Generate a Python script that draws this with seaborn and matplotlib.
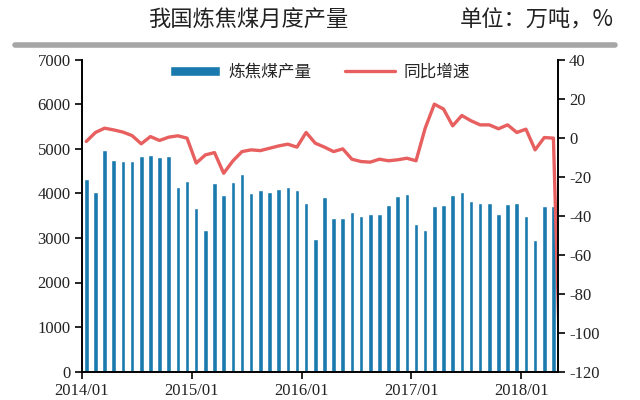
import matplotlib
matplotlib.use("Agg")
import matplotlib.pyplot as plt
import seaborn as sns
import numpy as np
import pandas as pd
from matplotlib.lines import Line2D

# ---- data ----
months = [f"{y}/{m:02d}" for y in range(2014, 2019) for m in range(1, 13)][:52]
output = [4314, 4036, 4964, 4747, 4717, 4717, 4836, 4852, 4814, 4836, 4148, 4283,
          3677, 3177, 4224, 3962, 4245, 4425, 4014, 4074, 4022, 4096, 4141, 4081,
          3776, 2969, 3924, 3439, 3453, 3574, 3498, 3543, 3536, 3738, 3939, 3995,
          3305, 3170, 3722, 3738, 3962, 4022, 3820, 3782, 3776, 3529, 3753, 3776,
          3484, 2953, 3722, 3722]
yoy = [-2.0, 2.6, 4.8, 3.9, 2.8, 1.0, -3.2, 0.5, -1.5, 0.2, 0.9, -0.3,
       -13.1, -8.9, -7.7, -18.3, -12.0, -7.2, -6.3, -6.7, -5.5, -4.3, -3.4, -4.9,
       2.6, -2.9, -4.9, -7.2, -5.8, -11.1, -12.3, -12.6, -11.1, -11.9, -11.4, -10.6,
       -11.9, 4.8, 17.1, 14.6, 6.0, 11.3, 8.6, 6.5, 6.5, 4.5, 6.5, 2.6,
       4.3, -6.3, 0.0, -0.3, -165.0]
year_ticks = ["2014/01", "2015/01", "2016/01", "2017/01", "2018/01"]
left_ticks = [0, 1000, 2000, 3000, 4000, 5000, 6000, 7000]
right_ticks = [-120, -100, -80, -60, -40, -20, 0, 20, 40]

title = "我国炼焦煤月度产量"
unit = "单位：万吨，%"
bar_name = "炼焦煤产量"
line_name = "同比增速"

sns.set_theme(style="white")
plt.rcParams['font.family'] = ['Noto Sans CJK SC', 'DejaVu Sans']
plt.rcParams['axes.unicode_minus'] = False

bar_color = "#1a79ad"
line_color = "#e85f5f"

df_bar = pd.DataFrame({"month": months, "output": output})
df_line = pd.DataFrame({"pos": np.arange(len(yoy)), "yoy": yoy})

fig = plt.figure(figsize=(6.4, 4.0), dpi=100)
ax = fig.add_axes([81.7/640, 1-371.7/400, (558-81.7)/640, (371.7-59.5)/400])

sns.barplot(data=df_bar, x="month", y="output", color=bar_color, width=0.5,
            saturation=1, ax=ax, label=bar_name)
ax2 = ax.twinx()
sns.lineplot(data=df_line, x="pos", y="yoy", color=line_color, linewidth=2.4,
             ax=ax2, label=line_name)

ax.set_xlim(-0.5, len(months) - 0.5)
ax2.set_xlim(-0.5, len(months) - 0.5)
ax.set_ylim(0, 7000)
ax2.set_ylim(-120, 40)
ax.set_yticks(left_ticks)
ax2.set_yticks(right_ticks)
tick_pos = [months.index(t) - 0.5 for t in year_ticks]
ax.set_xticks(tick_pos)
ax.set_xticklabels(year_ticks)
ax.set_xlabel("")
ax.set_ylabel("")
ax2.set_ylabel("")
ax2.set_xlabel("")

serif = ['Liberation Serif', 'DejaVu Serif']
for lab in ax.get_xticklabels() + ax.get_yticklabels() + ax2.get_yticklabels():
    lab.set_family(serif)
    lab.set_fontsize(12)
    lab.set_color("#222222")

ax.tick_params(axis='both', which='major', direction='out', length=5, width=1.2,
               color='black', pad=3, left=True, bottom=True)
ax2.tick_params(axis='y', direction='out', length=5, width=1.2, color='black',
                pad=3, right=True)

for a in (ax, ax2):
    a.spines['top'].set_visible(False)
    for s in ('left', 'right', 'bottom'):
        a.spines[s].set_color('black')
        a.spines[s].set_linewidth(1.4)
ax.spines['right'].set_visible(False)
ax2.spines['left'].set_visible(False)
ax2.spines['bottom'].set_visible(False)

# legend
h1, l1 = ax.get_legend_handles_labels()
h2, l2 = ax2.get_legend_handles_labels()
if ax2.get_legend():
    ax2.get_legend().remove()
if ax.get_legend():
    ax.get_legend().remove()
ax2.legend(h1 + h2, l1 + l2, loc='upper center', bbox_to_anchor=(0.5, 1.035),
           ncol=2, frameon=False, fontsize=12, handlelength=3.0,
           handleheight=0.55, columnspacing=2.0, handletextpad=0.5)

# title and unit
fig.text(248/640, 1 - 20/400, title, ha='center', va='center', fontsize=16,
         color='#222222')
fig.text(537/640, 1 - 20/400, unit, ha='center', va='center', fontsize=16,
         color='#222222')
fig.add_artist(Line2D([15/640, 615/640], [1 - 45/400, 1 - 45/400],
                      transform=fig.transFigure, color='#a6a6a6', linewidth=4))

fig.savefig("out.png", dpi=100)
